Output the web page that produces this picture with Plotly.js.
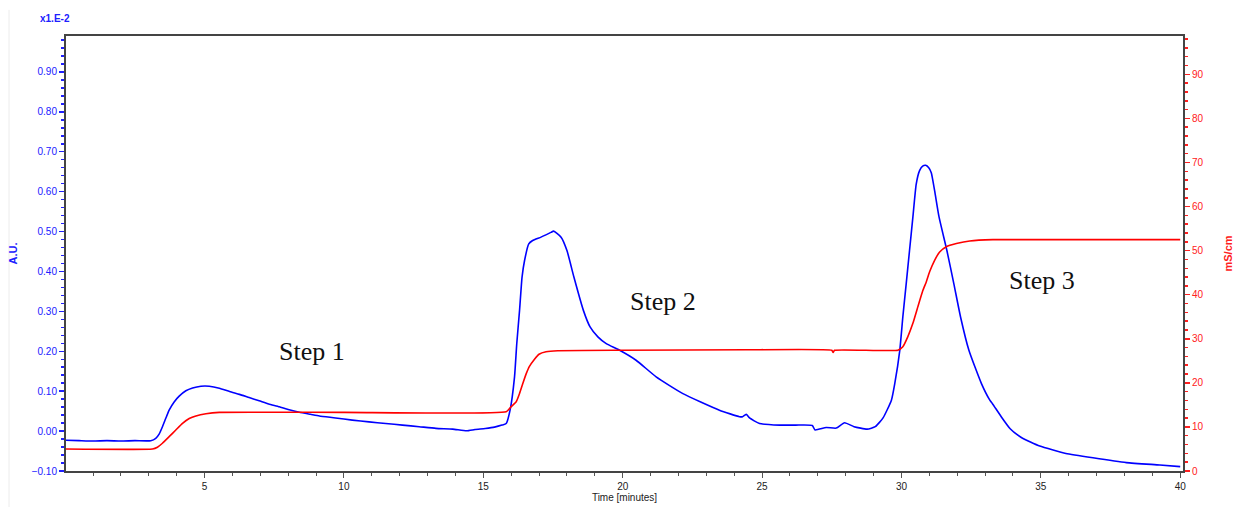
<!DOCTYPE html>
<html>
<head>
<meta charset="utf-8">
<script src="https://cdn.plot.ly/plotly-3.0.1.min.js"></script>
<style>html,body{margin:0;padding:0;background:#fff;}#chart{width:1246px;height:507px;}</style>
</head>
<body>
<div id="chart"></div>
<script>
// UV absorbance (A.U., x1E-2) vs time
const uvTime = [0, 0.5, 1.0, 1.5, 2.0, 2.5, 3.07, 3.25, 3.37, 3.49, 3.61, 3.73, 3.91, 4.09, 4.33, 4.57, 4.87, 5.17, 5.53, 5.9, 6.25, 6.6, 6.96, 7.3, 7.68, 8.0, 8.4, 8.8, 9.12, 9.7, 10.3, 10.9, 11.5, 12.1, 12.7, 13.3, 13.9, 14.4, 14.7, 15.07, 15.4, 15.67, 15.82, 15.96, 16.12, 16.2, 16.3, 16.39, 16.48, 16.63, 16.77, 17.07, 17.43, 17.52, 17.79, 18.0, 18.25, 18.59, 18.83, 19.11, 19.41, 19.89, 20.48, 21.2, 22.16, 23.47, 24.19, 24.3, 24.43, 24.55, 24.91, 25.63, 26.2, 26.8, 26.9, 27.3, 27.66, 27.96, 28.3, 28.77, 29.06, 29.34, 29.64, 29.76, 29.94, 30.05, 30.17, 30.29, 30.41, 30.53, 30.65, 30.76, 30.87, 30.98, 31.07, 31.19, 31.35, 31.63, 31.88, 32.12, 32.42, 32.87, 33.17, 33.27, 33.58, 33.9, 34.3, 34.96, 35.44, 35.9, 36.87, 38.07, 39.27, 40.0];
const uvValue = [-0.023, -0.024, -0.025, -0.024, -0.025, -0.024, -0.024, -0.018, -0.0075, 0.011, 0.032, 0.0525, 0.073, 0.0875, 0.101, 0.108, 0.1125, 0.1125, 0.1075, 0.099, 0.092, 0.084, 0.076, 0.068, 0.061, 0.054, 0.047, 0.042, 0.038, 0.033, 0.0275, 0.023, 0.019, 0.015, 0.011, 0.0067, 0.005, 0.0008, 0.004, 0.0067, 0.010, 0.015, 0.019, 0.0525, 0.136, 0.219, 0.3025, 0.386, 0.4275, 0.469, 0.4775, 0.486, 0.498, 0.501, 0.486, 0.4525, 0.386, 0.3025, 0.261, 0.236, 0.219, 0.2025, 0.1775, 0.136, 0.094, 0.0525, 0.036, 0.036, 0.042, 0.033, 0.019, 0.015, 0.015, 0.014, 0.003, 0.009, 0.0075, 0.021, 0.011, 0.005, 0.011, 0.033, 0.0775, 0.119, 0.2025, 0.286, 0.369, 0.4525, 0.536, 0.619, 0.6525, 0.664, 0.666, 0.66, 0.6475, 0.6025, 0.536, 0.4525, 0.369, 0.286, 0.2025, 0.119, 0.0775, 0.068, 0.036, 0.006, -0.016, -0.0375, -0.0475, -0.056, -0.067, -0.079, -0.085, -0.089];

// Conductivity (mS/cm) vs time
const condTime = [0, 3.13, 3.31, 3.49, 3.73, 3.97, 4.21, 4.45, 4.69, 5.05, 5.53, 10.0, 15.82, 16.0, 16.18, 16.3, 16.42, 16.54, 16.65, 16.83, 17.0, 17.25, 17.67, 20.0, 24.4, 27.5, 27.55, 27.6, 29.87, 30.05, 30.23, 30.41, 30.59, 30.77, 30.89, 31.01, 31.19, 31.37, 31.61, 31.97, 32.45, 33.28, 40.0];
const condValue = [5.0, 5.0, 5.4, 6.3, 7.8, 9.3, 10.8, 11.9, 12.5, 13.0, 13.3, 13.3, 13.45, 14.6, 15.7, 17.6, 19.9, 22.1, 23.7, 25.3, 26.5, 27.05, 27.3, 27.4, 27.5, 27.4, 26.9, 27.4, 27.4, 28.2, 30.5, 33.5, 37.3, 41.0, 42.9, 45.2, 47.8, 49.7, 50.9, 51.6, 52.2, 52.5, 52.5];

// Text labels
const stepLabels = ["Step 1", "Step 2", "Step 3"];
const stepTime = [8.87, 21.43, 35.03];
const stepLevel = [0.20, 0.325, 0.3775];

const BLUE = '#2020ff';
const RED = '#ff2020';
const FONT = 'Liberation Sans, Arial, sans-serif';

const traces = [
  {x: uvTime, y: uvValue, type: 'scatter', mode: 'lines', name: 'UV',
   line: {color: '#0000ff', width: 1.6, shape: 'spline', smoothing: 0.5}, yaxis: 'y', hoverinfo: 'x+y'},
  {x: condTime, y: condValue, type: 'scatter', mode: 'lines', name: 'Conductivity',
   line: {color: '#ff0000', width: 1.6, shape: 'spline', smoothing: 0.4}, yaxis: 'y2', hoverinfo: 'x+y'}
];

const annotations = stepLabels.map((t, i) => ({
  x: stepTime[i], y: stepLevel[i], xref: 'x', yref: 'y', text: t, showarrow: false,
  xanchor: 'center', yanchor: 'middle',
  font: {family: 'Liberation Serif, Times New Roman, serif', size: 26, color: '#111'}
}));
annotations.push({
  x: -0.0098, y: 1.041, xref: 'paper', yref: 'paper', text: '<b>x1.E-2</b>', showarrow: false,
  xanchor: 'center', yanchor: 'middle', font: {family: FONT, size: 10, color: BLUE}
});

const layout = {
  width: 1246, height: 507,
  margin: {l: 66, r: 63, t: 36, b: 36, pad: 0},
  paper_bgcolor: '#fff', plot_bgcolor: '#fff',
  showlegend: false,
  xaxis: {
    range: [0.03, 40.1], tickmode: 'linear', tick0: 0, dtick: 5,
    ticks: 'outside', ticklen: 5, tickcolor: '#555', tickwidth: 1,
    minor: {dtick: 1, tick0: 0, ticks: 'outside', ticklen: 3, tickcolor: '#555'},
    showline: true, linecolor: '#444', linewidth: 2, mirror: true,
    showgrid: false, zeroline: false,
    tickfont: {family: FONT, size: 10, color: '#222'},
    title: {text: 'Time [minutes]', font: {family: FONT, size: 10, color: '#222'}, standoff: 2}
  },
  yaxis: {
    range: [-0.1, 0.99], tickmode: 'linear', tick0: 0, dtick: 0.1, tickformat: '.2f',
    ticks: 'outside', ticklen: 5, tickcolor: BLUE, tickwidth: 1.5,
    minor: {dtick: 0.02, tick0: 0, ticks: 'outside', ticklen: 3, tickcolor: BLUE},
    showline: true, linecolor: '#444', linewidth: 2,
    showgrid: false, zeroline: false,
    tickfont: {family: FONT, size: 10, color: BLUE},
    title: {text: '<b>A.U.</b>', font: {family: FONT, size: 11, color: BLUE}, standoff: 12}
  },
  yaxis2: {
    overlaying: 'y', side: 'right', anchor: 'x',
    range: [0, 98.7], tickmode: 'linear', tick0: 0, dtick: 10,
    ticks: 'outside', ticklen: 5, tickcolor: RED, tickwidth: 1.5,
    minor: {dtick: 2, tick0: 0, ticks: 'outside', ticklen: 3, tickcolor: RED},
    showline: true, linecolor: '#444', linewidth: 2,
    showgrid: false, zeroline: false,
    tickfont: {family: FONT, size: 10, color: RED},
    title: {text: '<b>mS/cm</b>', font: {family: FONT, size: 11, color: RED}, standoff: 22}
  },
  annotations: annotations,
  shapes: [{type: 'line', xref: 'paper', yref: 'paper', x0: -0.051, x1: -0.051, y0: -0.083, y1: 1.06,
            line: {color: '#ececec', width: 1}}]
};

Plotly.newPlot('chart', traces, layout, {displayModeBar: false, staticPlot: true});
</script>
</body>
</html>
